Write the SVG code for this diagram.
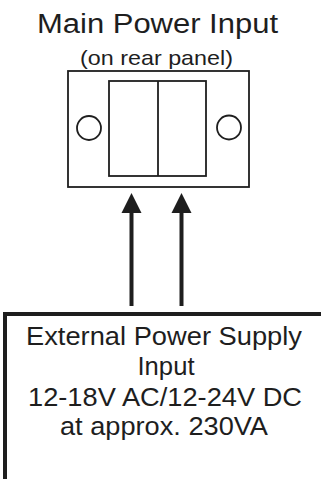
<svg xmlns="http://www.w3.org/2000/svg" width="321" height="479" viewBox="0 0 321 479">
  <style>
    .txt { font-family: "Liberation Sans", Arial, sans-serif; fill: #1e1e1e; text-anchor: middle; }
    .thin { fill: none; stroke: #1e1e1e; stroke-width: 1.8; }
    .thick { fill: none; stroke: #1e1e1e; stroke-width: 4; }
    .shaft { fill: none; stroke: #1e1e1e; stroke-width: 4; }
    .head { fill: #1e1e1e; stroke: none; }
  </style>
  <rect width="321" height="479" fill="#ffffff"/>

  <g id="main-power-input">
    <text class="txt" x="157.5" y="33" font-size="27" textLength="241" lengthAdjust="spacingAndGlyphs">Main Power Input</text>
    <text class="txt" x="156.5" y="65" font-size="21" textLength="153" lengthAdjust="spacingAndGlyphs">(on rear panel)</text>
    <rect class="thin" x="68" y="71" width="181" height="116"/>
    <rect class="thin" x="109" y="81" width="97" height="95"/>
    <line class="thin" x1="158" y1="81" x2="158" y2="176"/>
    <circle class="thin" cx="89" cy="128" r="12"/>
    <circle class="thin" cx="229" cy="127.5" r="12"/>
  </g>

  <g id="connectors">
    <line class="shaft" x1="131.5" y1="306" x2="131.5" y2="208"/>
    <polygon class="head" points="131.5,193 141.5,213 121.5,213"/>
    <line class="shaft" x1="181.5" y1="306" x2="181.5" y2="208"/>
    <polygon class="head" points="181.5,193 191.5,213 171.5,213"/>
  </g>

  <g id="external-power-supply">
    <path class="thick" d="M5,481 L5,314 L323,314"/>
    <text class="txt" x="164" y="345" font-size="26" textLength="276" lengthAdjust="spacingAndGlyphs">External Power Supply</text>
    <text class="txt" x="166" y="375" font-size="26" textLength="57" lengthAdjust="spacingAndGlyphs">Input</text>
    <text class="txt" x="165" y="406" font-size="26" textLength="274" lengthAdjust="spacingAndGlyphs">12-18V AC/12-24V DC</text>
    <text class="txt" x="164" y="435" font-size="26" textLength="208" lengthAdjust="spacingAndGlyphs">at approx. 230VA</text>
  </g>
</svg>
